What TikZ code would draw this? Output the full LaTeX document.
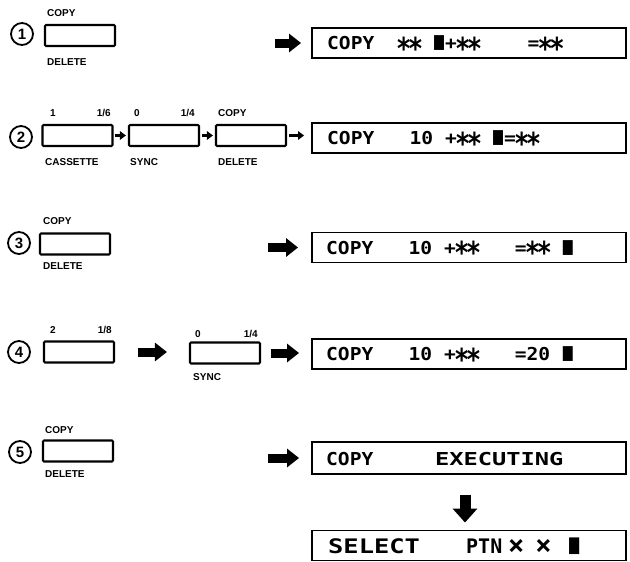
\documentclass[tikz,border=0pt]{standalone}
\usepackage{fontspec}
\setmainfont{Liberation Sans}
\newfontfamily\lcdfont{DejaVu Sans Mono}
\usetikzlibrary{arrows.meta}
\newcommand\blank{\phantom{0}}
\newcommand\lcdstar{\makebox[0.602em]{\raisebox{-0.56em}{\scalebox{1.3}[1.7]{*}}}}
\newcommand\cur{\makebox[0.602em]{\scalebox{0.85}[1.4]{■}}}
\newcommand\lcdx{\raisebox{-0.05em}{\scalebox{1.35}{×}}}
\begin{document}
\begin{tikzpicture}[x=1pt,y=-1pt,
 key/.style={draw, line width=2.1pt, rounded corners=1pt, minimum width=70pt, minimum height=21pt, inner sep=0pt},
 num/.style={circle, draw, line width=1.8pt, minimum size=22pt, inner sep=0pt, font=\fontsize{15}{15}\selectfont\bfseries},
 lbl/.style={inner sep=0pt, font=\fontsize{10}{11}\selectfont\bfseries},
 disp/.style={draw, line width=1.9pt, minimum width=314pt, minimum height=30pt, inner sep=0pt},
 lcd/.style={inner sep=0pt, anchor=base west, font=\lcdfont\bfseries\fontsize{17.8}{18}\selectfont},
 lcdbig/.style={inner sep=0pt, anchor=base west, font=\lcdfont\bfseries\fontsize{20}{20}\selectfont},
 bigarr/.style={line width=9pt, -{Triangle[length=12pt,width=18pt]}},
 downarr/.style={line width=11pt, -{Triangle[length=14pt,width=24pt]}},
 smallarr/.style={line width=2.6pt, -{Triangle[length=6pt,width=8.5pt]}},
]
\useasboundingbox (0,0) rectangle (630,562);

% ---------- Row 1 ----------
\node[num] (n1) at (22,34) {1};
\node[key] (k1) at (80,35.5) {};
\node[lbl, anchor=west] (l1a) at (47,13) {COPY};
\node[lbl, anchor=west] (l1b) at (47,62) {DELETE};
\node[disp] (d1) at (469,43) {};
\coordinate (a1) at (275,43);
\draw[bigarr, shorten >=10pt] (a1) -- (a1 -| d1.west);
\node[lcd] (t1) at (327,49.5) {\scalebox{1.1}[1]{COPY\blank\blank\lcdstar\lcdstar\blank\cur+\lcdstar\lcdstar\blank\blank\blank\blank=\lcdstar\lcdstar}};

% ---------- Row 2 ----------
\node[num] (n2) at (21,137) {2};
\node[key] (k21) at (77.5,135.5) {};
\node[key] (k22) at (164,135.5) {};
\node[key] (k23) at (251,135.5) {};
\node[lbl, anchor=west] (l2a) at (50,113) {1};
\node[lbl, anchor=east] (l2b) at (111,113) {1/6};
\node[lbl, anchor=west] (l2c) at (134,113) {0};
\node[lbl, anchor=east] (l2d) at (195,113) {1/4};
\node[lbl, anchor=west] (l2e) at (218,113) {COPY};
\node[lbl, anchor=west] (l2f) at (45,162) {CASSETTE};
\node[lbl, anchor=west] (l2g) at (130,162) {SYNC};
\node[lbl, anchor=west] (l2h) at (218,162) {DELETE};
\node[disp] (d2) at (469,138) {};
\draw[smallarr, shorten <=1pt, shorten >=2pt] (k21.east) -- (k22.west);
\draw[smallarr, shorten <=2pt, shorten >=2pt] (k22.east) -- (k23.west);
\draw[smallarr, shorten <=2pt, shorten >=7pt] (k23.east) -- (k23.east -| d2.west);
\node[lcd] (t2) at (327,144.5) {\scalebox{1.1}[1]{COPY\blank\blank\blank10\blank+\lcdstar\lcdstar\blank\cur=\lcdstar\lcdstar}};

% ---------- Row 3 ----------
\node[num] (n3) at (19,243) {3};
\node[key] (k3) at (75,244) {};
\node[lbl, anchor=west] (l3a) at (43,221) {COPY};
\node[lbl, anchor=west] (l3b) at (43,266) {DELETE};
\node[disp] (d3) at (469,247.5) {};
\coordinate (a3) at (268,247.5);
\draw[bigarr, shorten >=13pt] (a3) -- (a3 -| d3.west);
\node[lcd] (t3) at (326,254) {\scalebox{1.1}[1]{COPY\blank\blank\blank10\blank+\lcdstar\lcdstar\blank\blank\blank=\lcdstar\lcdstar\blank\cur}};

% ---------- Row 4 ----------
\node[num] (n4) at (19,352) {4};
\node[key] (k41) at (79,352) {};
\node[key] (k42) at (225,353) {};
\node[lbl, anchor=west] (l4a) at (50,330) {2};
\node[lbl, anchor=east] (l4b) at (112,330) {1/8};
\node[lbl, anchor=west] (l4c) at (195,334) {0};
\node[lbl, anchor=east] (l4d) at (258,334) {1/4};
\node[lbl, anchor=west] (l4e) at (193,377) {SYNC};
\node[disp] (d4) at (469,354) {};
\draw[bigarr, shorten <=23pt, shorten >=22pt] (k41.east) -- (k41.east -| k42.west);
\draw[bigarr, shorten <=10pt, shorten >=12pt] (k42.east) -- (k42.east -| d4.west);
\node[lcd] (t4) at (326,360.5) {\scalebox{1.1}[1]{COPY\blank\blank\blank10\blank+\lcdstar\lcdstar\blank\blank\blank=20\blank\cur}};

% ---------- Row 5 ----------
\node[num] (n5) at (20,452) {5};
\node[key] (k5) at (78,451) {};
\node[lbl, anchor=west] (l5a) at (45,430) {COPY};
\node[lbl, anchor=west] (l5b) at (45,474) {DELETE};
\node[disp, minimum height=32pt] (d5) at (469,458) {};
\coordinate (a5) at (268,458);
\draw[bigarr, shorten >=12pt] (a5) -- (a5 -| d5.west);
\node[lcd] (t5a) at (326,465) {\scalebox{1.1}[1]{COPY}};
\node[lcd] (t5b) at (435,465) {\scalebox{1.33}[1]{EXECUTING}};

% ---------- Row 6 ----------
\node[disp] (d6) at (469,545.5) {};
\draw[downarr, shorten <=20pt, shorten >=7pt] ([xshift=-4pt]d5.south) -- ([xshift=-4pt]d6.north);
\node[lcdbig] (t6a) at (328,553) {\scalebox{1.27}[1]{SELECT}};
\node[lcdbig] (t6b) at (466,553) {PTN};
\node[lcdbig] (t6c) at (508,553) {\lcdx\kern11pt\lcdx};
\node[lcdbig] (t6d) at (568,553) {\cur};
\end{tikzpicture}
\end{document}
